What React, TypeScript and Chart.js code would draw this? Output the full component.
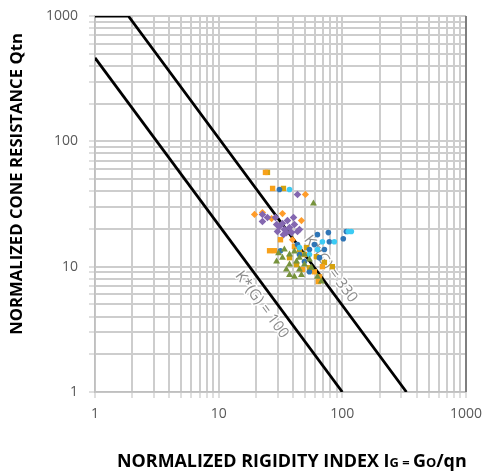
import React, { useEffect, useRef } from 'react';
import { Chart, registerables } from 'chart.js';

Chart.register(...registerables);

// Axis tick labels (decades) and grid multipliers
const X_TICK_LABELS = [1, 10, 100, 1000];
const Y_TICK_LABELS = [1, 10, 100, 1000];
const GRID_MULTIPLIERS = [1, 2, 3, 4, 5, 6, 7, 8, 9];

// Reference lines K*(G) = 100 and K*(G) = 330
const LINE_K100_IG = [1, 100];
const LINE_K100_QTN = [464, 1];
const LINE_K330_IG = [1, 1.86, 330];
const LINE_K330_QTN = [1000, 1000, 1];

// Scatter series
const ORANGE_SQ_IG = [23.9, 27.3, 31.6, 25.8, 28.3, 41.0, 49.4, 65.3, 59.4, 47.6, 64.0, 69.0];
const ORANGE_SQ_QTN = [56.5, 42.1, 16.4, 13.4, 13.4, 14.5, 12.5, 8.3, 9.1, 9.5, 7.6, 10.0];

const GOLD_SQ_IG = [24.8, 33.4, 45.0, 51.3, 61.7, 83.0, 54.2, 71.6, 37.4, 42.6];
const GOLD_SQ_QTN = [56.5, 42.1, 13.7, 14.2, 12.0, 10.0, 9.8, 10.8, 11.8, 10.4];

const ORANGE_DIA_IG = [19.5, 26.8, 32.8, 46.7, 50.3, 39.5, 22.6];
const ORANGE_DIA_QTN = [26.1, 24.2, 26.5, 23.3, 37.7, 16.4, 27.0];

const PURPLE_IG = [22.6, 22.6, 28.8, 40.3, 43.4, 43.4, 31.0, 34.0, 37.4, 41.0, 29.9, 35.3, 38.8, 32.8, 45.0, 24.8, 36.0, 29.4, 33.4];
const PURPLE_QTN = [26.1, 22.9, 24.7, 24.7, 37.7, 19.1, 20.9, 19.8, 20.5, 21.7, 19.1, 18.7, 18.7, 22.1, 19.8, 24.7, 23.3, 21.7, 18.0];

const GREEN_IG = [58.4, 29.4, 34.0, 37.4, 41.0, 45.0, 49.4, 54.2, 32.8, 37.4, 42.6, 37.4, 41.0, 46.7, 62.9, 67.7, 49.4, 56.2, 45.0, 35.3, 30.5];
const GREEN_QTN = [31.9, 11.0, 13.7, 12.5, 13.2, 11.8, 12.5, 11.4, 11.8, 10.4, 11.0, 8.6, 8.3, 8.6, 8.3, 7.6, 10.4, 9.8, 9.5, 9.5, 12.8];

const BLUE_IG = [31.0, 62.9, 77.1, 107.7, 78.5, 101.8, 31.6, 45.0, 54.2, 59.4, 49.4, 65.3, 54.2, 43.4, 71.6];
const BLUE_QTN = [41.3, 18.0, 18.7, 19.1, 15.8, 16.7, 13.4, 12.5, 13.7, 15.0, 11.0, 11.8, 9.1, 15.0, 13.7];

const CYAN_IG = [37.4, 111.7, 118.2, 69.0, 86.1, 45.0, 54.2, 62.9];
const CYAN_QTN = [41.3, 19.1, 19.1, 15.8, 15.8, 14.2, 12.5, 13.7];

const zip = (xs: number[], ys: number[]) => xs.map((x, i) => ({ x, y: ys[i] }));

const gridValues = (labels: number[]) => {
  const out: number[] = [];
  for (let i = 0; i < labels.length - 1; i++) {
    GRID_MULTIPLIERS.forEach((m) => out.push(labels[i] * m));
  }
  out.push(labels[labels.length - 1]);
  return out;
};

const TICK_FONT = { family: '"Open Sans", "Liberation Sans", sans-serif', size: 14 };
const TITLE_FAMILY = '"Open Sans", "Liberation Sans", sans-serif';

function drawRotLabel(ctx: CanvasRenderingContext2D, cx: number, cy: number, text: string, angle: number) {
  ctx.save();
  ctx.translate(cx, cy);
  ctx.rotate(angle);
  ctx.font = `15px ${TITLE_FAMILY}`;
  ctx.textAlign = 'center';
  ctx.textBaseline = 'middle';
  ctx.lineJoin = 'round';
  ctx.strokeStyle = 'rgba(255,255,255,0.9)';
  ctx.lineWidth = 3;
  ctx.strokeText(text, 0, 0);
  ctx.fillStyle = '#8a8a8a';
  ctx.fillText(text, 0, 0);
  ctx.restore();
}

const zeroPad = (s: any) => {
  s.paddingLeft = 0;
  s.paddingRight = 0;
  s.paddingTop = 0;
  s.paddingBottom = 0;
};

const customPlugin = {
  id: 'customDecor',
  beforeDatasetsDraw(chart: any) {
    const { ctx, chartArea, scales } = chart;
    const x = scales.x;
    const y = scales.y;
    ctx.save();
    ctx.strokeStyle = '#7f7f7f';
    ctx.lineWidth = 2;
    ctx.beginPath();
    ctx.moveTo(chartArea.right, chartArea.top);
    ctx.lineTo(chartArea.right, chartArea.bottom);
    ctx.stroke();
    ctx.restore();

    // label along K=100 line
    const a1x = x.getPixelForValue(LINE_K100_IG[0]);
    const a1y = y.getPixelForValue(LINE_K100_QTN[0]);
    const b1x = x.getPixelForValue(LINE_K100_IG[1]);
    const b1y = y.getPixelForValue(LINE_K100_QTN[1]);
    const ang1 = Math.atan2(b1y - a1y, b1x - a1x);
    const t1 = 0.739;
    drawRotLabel(ctx, a1x + (b1x - a1x) * t1 - 16, a1y + (b1y - a1y) * t1, 'K*(G) = 100', ang1);

    // label along K=330 line
    const a2x = x.getPixelForValue(LINE_K330_IG[1]);
    const a2y = y.getPixelForValue(LINE_K330_QTN[1]);
    const b2x = x.getPixelForValue(LINE_K330_IG[2]);
    const b2y = y.getPixelForValue(LINE_K330_QTN[2]);
    const ang2 = Math.atan2(b2y - a2y, b2x - a2x);
    const t2 = 0.673;
    drawRotLabel(ctx, a2x + (b2x - a2x) * t2 + 15, a2y + (b2y - a2y) * t2, 'K*(G) = 330', ang2);
  },
  afterDraw(chart: any) {
    const { ctx } = chart;
    ctx.save();
    ctx.fillStyle = '#000000';
    // Y title
    const yTitle = 'NORMALIZED CONE RESISTANCE Qtn';
    ctx.font = `bold 16px ${TITLE_FAMILY}`;
    const yw = ctx.measureText(yTitle).width;
    const ySize = 16 * 302 / yw;
    ctx.font = `bold ${ySize}px ${TITLE_FAMILY}`;
    ctx.translate(17, 184);
    ctx.rotate(-Math.PI / 2);
    ctx.textAlign = 'center';
    ctx.textBaseline = 'middle';
    ctx.fillText(yTitle, 0, 0);
    ctx.restore();

    // X title with small caps pieces
    ctx.save();
    ctx.fillStyle = '#000000';
    const pieces: [string, number][] = [
      ['NORMALIZED RIGIDITY INDEX I', 1],
      ['G', 0.72],
      [' = ', 0.72],
      ['G', 1],
      ['O', 0.72],
      ['/qn', 1],
    ];
    const base = 16;
    let total = 0;
    pieces.forEach(([t, s]) => {
      ctx.font = `bold ${base * s}px ${TITLE_FAMILY}`;
      total += ctx.measureText(t).width;
    });
    const scale = 350 / total;
    let px = 117;
    const baseline = 467;
    ctx.textBaseline = 'alphabetic';
    ctx.textAlign = 'left';
    pieces.forEach(([t, s]) => {
      ctx.font = `bold ${base * s * scale}px ${TITLE_FAMILY}`;
      ctx.fillText(t, px, baseline);
      px += ctx.measureText(t).width;
    });
    ctx.restore();
  },
};

export default function App() {
  const canvasRef = useRef<HTMLCanvasElement | null>(null);

  useEffect(() => {
    if (!canvasRef.current) return;
    const xGrid = gridValues(X_TICK_LABELS);
    const yGrid = gridValues(Y_TICK_LABELS);

    const pointSet = (label: string, xs: number[], ys: number[], style: any, color: string, radius: number, order: number) => ({
      label,
      data: zip(xs, ys),
      pointStyle: style,
      pointRadius: radius,
      pointHoverRadius: radius,
      backgroundColor: color,
      borderColor: color,
      borderWidth: 0,
      showLine: false,
      order,
    });

    const chart = new Chart(canvasRef.current, {
      type: 'scatter',
      data: {
        datasets: [
          pointSet('Green', GREEN_IG, GREEN_QTN, 'triangle', '#77933C', 4, 1),
          pointSet('Cyan', CYAN_IG, CYAN_QTN, 'circle', '#3CCBF4', 2.8, 2),
          pointSet('Blue', BLUE_IG, BLUE_QTN, 'circle', '#2E75B6', 2.8, 3),
          pointSet('Orange squares', ORANGE_SQ_IG, ORANGE_SQ_QTN, 'rect', '#F7A11B', 3.8, 4),
          pointSet('Gold squares', GOLD_SQ_IG, GOLD_SQ_QTN, 'rect', '#D5A20F', 3.8, 5),
          pointSet('Purple', PURPLE_IG, PURPLE_QTN, 'rectRot', '#8467B0', 3.8, 6),
          pointSet('Orange diamonds', ORANGE_DIA_IG, ORANGE_DIA_QTN, 'rectRot', '#FF9C2A', 3.6, 7),
          {
            label: 'K*(G) = 330',
            data: zip(LINE_K330_IG, LINE_K330_QTN),
            showLine: true,
            borderColor: '#000000',
            borderWidth: 2.8,
            pointRadius: 0,
            order: 10,
          } as any,
          {
            label: 'K*(G) = 100',
            data: zip(LINE_K100_IG, LINE_K100_QTN),
            showLine: true,
            borderColor: '#000000',
            borderWidth: 2.8,
            pointRadius: 0,
            order: 11,
          } as any,
        ],
      },
      options: {
        animation: false,
        responsive: false,
        maintainAspectRatio: false,
        layout: { padding: { left: 0, right: 19, top: 16, bottom: 0 } },
        plugins: {
          legend: { display: false },
          tooltip: { enabled: false },
          title: { display: false },
        },
        scales: {
          x: {
            type: 'logarithmic',
            min: 1,
            max: 1000,
            afterBuildTicks: (s: any) => {
              s.ticks = xGrid.map((v) => ({ value: v }));
            },
            afterFit: (s: any) => {
              s.height = 79;
              zeroPad(s);
            },
            ticks: {
              autoSkip: false,
              maxRotation: 0,
              padding: 8,
              color: '#595959',
              font: TICK_FONT,
              callback: (v: any) => (X_TICK_LABELS.includes(Number(v)) ? String(v) : ''),
            },
            grid: { color: '#cdcdcd', lineWidth: 2, tickLength: 6, tickColor: '#bfbfbf', tickWidth: 1 },
            border: { color: '#bfbfbf', width: 1.5 },
            title: { display: false },
          },
          y: {
            type: 'logarithmic',
            min: 1,
            max: 1000,
            afterBuildTicks: (s: any) => {
              s.ticks = yGrid.map((v) => ({ value: v }));
            },
            afterFit: (s: any) => {
              s.width = 95;
              zeroPad(s);
            },
            ticks: {
              autoSkip: false,
              padding: 11,
              color: '#595959',
              font: TICK_FONT,
              callback: (v: any) => (Y_TICK_LABELS.includes(Number(v)) ? String(v) : ''),
            },
            grid: { color: '#cdcdcd', lineWidth: 2, tickLength: 6, tickColor: '#bfbfbf', tickWidth: 1 },
            border: { color: '#bfbfbf', width: 1.5 },
            title: { display: false },
          },
        },
      },
      plugins: [customPlugin],
    });
    return () => chart.destroy();
  }, []);

  return (
    <div style={{ position: 'fixed', left: 0, top: 0, width: 485, height: 471, background: '#ffffff' }}>
      <canvas ref={canvasRef} width={485} height={471} style={{ width: 485, height: 471, display: 'block' }} />
    </div>
  );
}
